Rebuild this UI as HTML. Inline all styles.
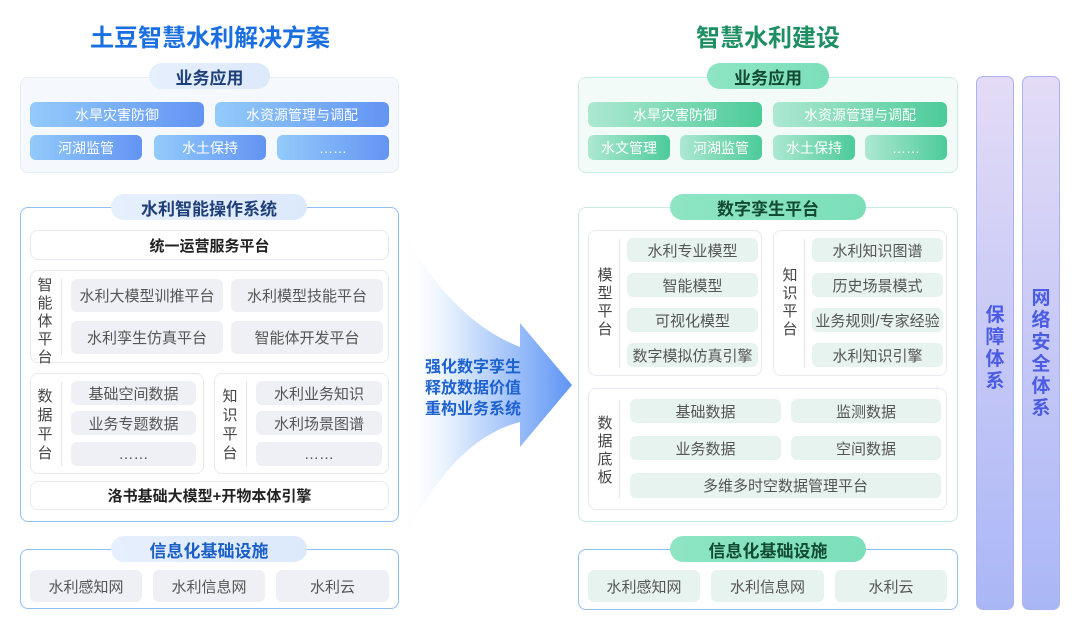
<!DOCTYPE html>
<html><head><meta charset="utf-8"><style>
*{margin:0;padding:0;box-sizing:border-box}
body{width:1080px;height:633px;background:#fff;position:relative;overflow:hidden;font-family:"Liberation Sans","Noto Sans CJK SC",sans-serif}
.a{position:absolute}
.c{display:flex;align-items:center;justify-content:center;white-space:nowrap}
.pl{position:absolute;border-radius:14px;display:flex;align-items:center;justify-content:center;font-weight:bold;font-size:17px}
.bp{background:linear-gradient(90deg,#e6effc,#dce9fb);color:#1f3f78}
.gp{background:linear-gradient(90deg,#8ee5c4,#7bdfba);color:#124a33}
.bi{background:linear-gradient(90deg,#92cbfb,#6294f2);color:#fff;font-size:14px;border-radius:6px}
.gi{background:linear-gradient(90deg,#ade8d2,#4ccb99);color:#fff;font-size:14px;border-radius:6px}
.gr{background:#eef0f5;color:#555;font-size:15px;border-radius:6px}
.gg{background:#e7f3ef;color:#555;font-size:15px;border-radius:6px}
.sub{border:1px solid #e6eaf0;border-radius:8px;background:#fff}
.lbl{position:absolute;font-size:15px;line-height:18px;color:#444;width:18px;text-align:center}
.dv{position:absolute;width:1px;background:#e3e6ec}
.side{position:absolute;top:76px;height:534px;width:38px;border-radius:7px;border:1px solid #aab2ef;background:linear-gradient(180deg,#e4dcf6,#c6c8f6 50%,#aab7f6)}
.vt{position:absolute;left:0;width:100%;text-align:center;font-weight:bold;font-size:19px;line-height:22px;color:#4b5ce3}
</style></head><body>

<div class="a c" style="left:60px;top:18px;width:300px;height:34px;font-size:24px;font-weight:bold;color:#1a6fe0">土豆智慧水利解决方案</div>
<div class="a c" style="left:618px;top:18px;width:300px;height:34px;font-size:24px;font-weight:bold;color:#1e8f62">智慧水利建设</div>

<!-- LEFT -->
<div class="a" style="left:20px;top:77px;width:379px;height:96px;background:#f5f8fd;border:1px solid #e5edf8;border-radius:8px"></div>
<div class="pl bp" style="left:149px;top:63px;width:121px;height:26px">业务应用</div>
<div class="a c bi" style="left:30px;top:102px;width:174px;height:25px">水旱灾害防御</div>
<div class="a c bi" style="left:215px;top:102px;width:174px;height:25px">水资源管理与调配</div>
<div class="a c bi" style="left:30px;top:135px;width:112px;height:25px">河湖监管</div>
<div class="a c bi" style="left:154px;top:135px;width:112px;height:25px">水土保持</div>
<div class="a c bi" style="left:277px;top:135px;width:112px;height:25px">……</div>

<div class="a" style="left:20px;top:207px;width:379px;height:315px;border:1.5px solid #8fbff5;border-radius:8px;background:#fff"></div>
<div class="pl bp" style="left:111px;top:194px;width:196px;height:26px">水利智能操作系统</div>
<div class="a c sub" style="left:30px;top:230px;width:359px;height:30px;font-size:15px;font-weight:bold;color:#222">统一运营服务平台</div>

<div class="a sub" style="left:30px;top:270px;width:359px;height:93px"></div>
<div class="lbl" style="left:36px;top:277px">智能体平台</div>
<div class="dv" style="left:61px;top:279px;height:76px"></div>
<div class="a c gr" style="left:71px;top:279px;width:152px;height:33px">水利大模型训推平台</div>
<div class="a c gr" style="left:231px;top:279px;width:152px;height:33px">水利模型技能平台</div>
<div class="a c gr" style="left:71px;top:321px;width:152px;height:33px">水利孪生仿真平台</div>
<div class="a c gr" style="left:231px;top:321px;width:152px;height:33px">智能体开发平台</div>

<div class="a sub" style="left:30px;top:373px;width:174px;height:101px"></div>
<div class="lbl" style="left:36px;top:387px;line-height:19px">数据平台</div>
<div class="dv" style="left:61px;top:382px;height:84px"></div>
<div class="a c gr" style="left:71px;top:381px;width:125px;height:24px">基础空间数据</div>
<div class="a c gr" style="left:71px;top:411px;width:125px;height:24px">业务专题数据</div>
<div class="a c gr" style="left:71px;top:442px;width:125px;height:24px">……</div>

<div class="a sub" style="left:214px;top:373px;width:175px;height:101px"></div>
<div class="lbl" style="left:221px;top:387px;line-height:19px">知识平台</div>
<div class="dv" style="left:246px;top:382px;height:84px"></div>
<div class="a c gr" style="left:256px;top:381px;width:126px;height:24px">水利业务知识</div>
<div class="a c gr" style="left:256px;top:411px;width:126px;height:24px">水利场景图谱</div>
<div class="a c gr" style="left:256px;top:442px;width:126px;height:24px">……</div>

<div class="a c sub" style="left:30px;top:481px;width:359px;height:29px;font-size:15px;font-weight:bold;color:#222">洛书基础大模型+开物本体引擎</div>

<div class="a" style="left:20px;top:549px;width:379px;height:60px;border:1.5px solid #8fbff5;border-radius:8px;background:#fff"></div>
<div class="pl bp" style="left:111px;top:536px;width:196px;height:26px;color:#1a5fc8">信息化基础设施</div>
<div class="a c gr" style="left:30px;top:570px;width:112px;height:32px">水利感知网</div>
<div class="a c gr" style="left:153px;top:570px;width:112px;height:32px">水利信息网</div>
<div class="a c gr" style="left:276px;top:570px;width:113px;height:32px">水利云</div>

<!-- ARROW -->
<svg class="a" style="left:395px;top:215px" width="185" height="340" viewBox="395 215 185 340">
<defs><linearGradient id="ag" x1="0" x2="1" y1="0" y2="0"><stop offset="0" stop-color="#fff" stop-opacity="0"/><stop offset="0.3" stop-color="#e2eefd"/><stop offset="1" stop-color="#5f95f4"/></linearGradient></defs>
<path d="M400 225 Q450 320 520 347 L520 323 L572 385 L520 447 L520 422 Q450 440 400 548 Z" fill="url(#ag)"/>
</svg>
<div class="a" style="left:425px;top:357px;font-size:16px;line-height:21px;font-weight:bold;color:#1e62d0">强化数字孪生<br>释放数据价值<br>重构业务系统</div>

<!-- RIGHT -->
<div class="a" style="left:578px;top:77px;width:380px;height:96px;background:#f3fbf8;border:1px solid #c9eedf;border-radius:8px"></div>
<div class="pl gp" style="left:707px;top:63px;width:122px;height:26px">业务应用</div>
<div class="a c gi" style="left:588px;top:102px;width:174px;height:25px">水旱灾害防御</div>
<div class="a c gi" style="left:773px;top:102px;width:174px;height:25px">水资源管理与调配</div>
<div class="a c gi" style="left:588px;top:135px;width:82px;height:25px">水文管理</div>
<div class="a c gi" style="left:680px;top:135px;width:82px;height:25px">河湖监管</div>
<div class="a c gi" style="left:773px;top:135px;width:82px;height:25px">水土保持</div>
<div class="a c gi" style="left:865px;top:135px;width:82px;height:25px">……</div>

<div class="a" style="left:578px;top:207px;width:380px;height:315px;border:1px solid #c6ecdc;border-radius:8px;background:#fff"></div>
<div class="pl gp" style="left:670px;top:194px;width:196px;height:26px">数字孪生平台</div>

<div class="a sub" style="left:588px;top:230px;width:174px;height:146px"></div>
<div class="lbl" style="left:596px;top:267px">模型平台</div>
<div class="dv" style="left:619px;top:239px;height:128px"></div>
<div class="a c gg" style="left:627px;top:238px;width:131px;height:24px">水利专业模型</div>
<div class="a c gg" style="left:627px;top:273px;width:131px;height:24px">智能模型</div>
<div class="a c gg" style="left:627px;top:308px;width:131px;height:24px">可视化模型</div>
<div class="a c gg" style="left:627px;top:343px;width:131px;height:24px">数字模拟仿真引擎</div>

<div class="a sub" style="left:773px;top:230px;width:174px;height:146px"></div>
<div class="lbl" style="left:781px;top:267px">知识平台</div>
<div class="dv" style="left:804px;top:239px;height:128px"></div>
<div class="a c gg" style="left:812px;top:238px;width:131px;height:24px">水利知识图谱</div>
<div class="a c gg" style="left:812px;top:273px;width:131px;height:24px">历史场景模式</div>
<div class="a c gg" style="left:812px;top:308px;width:131px;height:24px">业务规则/专家经验</div>
<div class="a c gg" style="left:812px;top:343px;width:131px;height:24px">水利知识引擎</div>

<div class="a sub" style="left:588px;top:388px;width:359px;height:122px"></div>
<div class="lbl" style="left:596px;top:415px">数据底板</div>
<div class="dv" style="left:619px;top:400px;height:98px"></div>
<div class="a c gg" style="left:630px;top:399px;width:151px;height:24px">基础数据</div>
<div class="a c gg" style="left:791px;top:399px;width:150px;height:24px">监测数据</div>
<div class="a c gg" style="left:630px;top:436px;width:151px;height:24px">业务数据</div>
<div class="a c gg" style="left:791px;top:436px;width:150px;height:24px">空间数据</div>
<div class="a c gg" style="left:630px;top:473px;width:311px;height:25px">多维多时空数据管理平台</div>

<div class="a" style="left:578px;top:549px;width:380px;height:61px;border:1.5px solid #8fbff5;border-radius:8px;background:#fff"></div>
<div class="pl gp" style="left:670px;top:536px;width:196px;height:26px">信息化基础设施</div>
<div class="a c gg" style="left:588px;top:570px;width:112px;height:32px">水利感知网</div>
<div class="a c gg" style="left:711px;top:570px;width:113px;height:32px">水利信息网</div>
<div class="a c gg" style="left:835px;top:570px;width:112px;height:32px">水利云</div>

<div class="side" style="left:976px"><div class="vt" style="top:228px">保<br>障<br>体<br>系</div></div>
<div class="side" style="left:1022px"><div class="vt" style="top:211px">网<br>络<br>安<br>全<br>体<br>系</div></div>

</body></html>
